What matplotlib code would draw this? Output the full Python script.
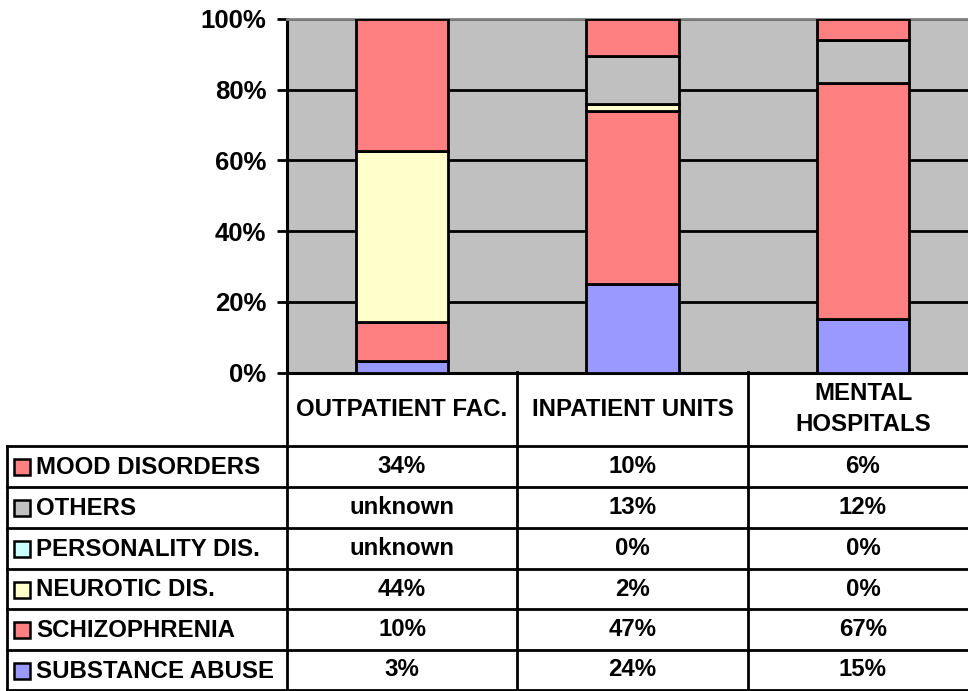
import numpy as np
import matplotlib
matplotlib.use('Agg')
import matplotlib.pyplot as plt

plt.rcParams['font.family'] = ['Liberation Sans', 'DejaVu Sans']
plt.rcParams['font.weight'] = 'bold'

# data (percent of diagnoses per facility type, None = unknown)
facilities = ['OUTPATIENT FAC.', 'INPATIENT UNITS', 'MENTAL\nHOSPITALS']
diagnoses = ['MOOD DISORDERS', 'OTHERS', 'PERSONALITY DIS.',
             'NEUROTIC DIS.', 'SCHIZOPHRENIA', 'SUBSTANCE ABUSE']
mood = [34, 10, 6]
others = [None, 13, 12]
personality = [None, 0, 0]
neurotic = [44, 2, 0]
schizophrenia = [10, 47, 67]
substance = [3, 24, 15]
colors = ['#FF8080', '#C0C0C0', '#CCFFFF', '#FFFFCC', '#FF8080', '#9999FF']

rows = [mood, others, personality, neurotic, schizophrenia, substance]

W, H = 968, 691
fig = plt.figure(figsize=(W / 100, H / 100), dpi=100)
ax = fig.add_axes([287 / W, 1 - 372.5 / H, (978 - 287) / W, (372.5 - 19) / H])
ax.set_facecolor('#C0C0C0')

# 100% stacked bars, bottom series first
vals = np.array([[v if v is not None else 0 for v in r] for r in rows], dtype=float)
totals = vals.sum(axis=0)
x = np.arange(len(facilities))
bottom = np.zeros(len(facilities))
for i in range(len(rows) - 1, -1, -1):
    h = vals[i] / totals * 100
    ax.bar(x, h, 0.4, bottom=bottom, color=colors[i], edgecolor='black',
           linewidth=2.0, zorder=3)
    bottom += h

ax.set_xlim(-0.5, 2.5)
ax.set_ylim(0, 100)
ax.set_yticks(range(0, 101, 20))
ax.set_yticklabels(['%d%%' % t for t in range(0, 101, 20)], fontsize=18.5,
                   fontweight='bold')
ax.set_xticks([])
ax.grid(axis='y', color='black', linewidth=2.0, zorder=1)
ax.tick_params(axis='y', length=7, width=2.0, pad=8)
for s in ['left', 'bottom']:
    ax.spines[s].set_linewidth(2.2)
ax.spines['top'].set_color('#808080')
ax.spines['top'].set_linewidth(2.0)
ax.spines['right'].set_visible(False)

# data table under the chart, drawn in pixel coordinates
t = fig.add_axes([0, 0, 1, 1], zorder=5)
t.set_xlim(0, W)
t.set_ylim(H, 0)
t.axis('off')
t.patch.set_alpha(0)

lw = 2.0
col_x = [287, 517, 748, 978]
row_y = [446, 487, 528, 569, 609, 650, 690]
fs = 17.3

for cx in col_x:
    t.plot([cx, cx], [372, 690], color='black', lw=lw)
t.plot([7, 7], [446, 690], color='black', lw=lw)
for ry in row_y:
    t.plot([7, 978], [ry, ry], color='black', lw=lw)

for j, name in enumerate(facilities):
    cx = (col_x[j] + col_x[j + 1]) / 2
    t.text(cx, 409, name, ha='center', va='center', fontsize=fs,
           fontweight='bold', linespacing=1.4)

for i, (label, r) in enumerate(zip(diagnoses, rows)):
    cy = (row_y[i] + row_y[i + 1]) / 2
    t.add_patch(plt.Rectangle((14, cy - 7.5), 16, 16, facecolor=colors[i],
                              edgecolor='black', lw=1.8))
    t.text(36, cy + 1, label, ha='left', va='center', fontsize=fs,
           fontweight='bold')
    for j, v in enumerate(r):
        cx = (col_x[j] + col_x[j + 1]) / 2
        txt = 'unknown' if v is None else '%d%%' % v
        t.text(cx, cy, txt, ha='center', va='center', fontsize=fs,
               fontweight='bold')

fig.savefig('out.png', dpi=100)
